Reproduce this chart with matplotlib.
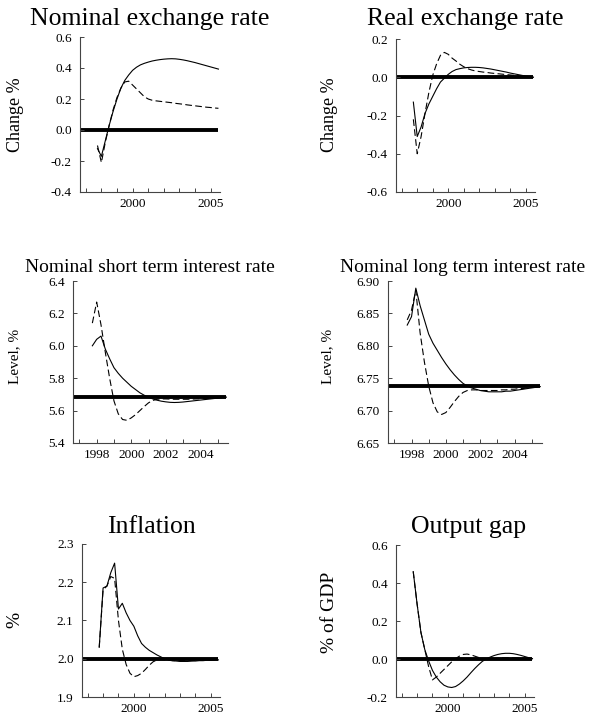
import matplotlib
matplotlib.use("Agg")
import matplotlib.pyplot as plt
import matplotlib.ticker as mticker
import pandas as pd

# ---- data (quarterly, 1997Q4 .. 2005Q3) ----
quarters = pd.period_range("1997Q4", "2005Q3", freq="Q")
t = [q.year + (q.quarter - 1) / 4 for q in quarters]

nom_solid = [-0.12, -0.17, -0.07, 0.03, 0.12, 0.20, 0.27, 0.32,
             0.355, 0.385, 0.405, 0.42, 0.43, 0.438, 0.445, 0.45,
             0.454, 0.457, 0.459, 0.46, 0.459, 0.456, 0.452, 0.447,
             0.441, 0.435, 0.428, 0.421, 0.414, 0.407, 0.40, 0.393]
nom_dash = [-0.10, -0.21, -0.08, 0.03, 0.13, 0.21, 0.27, 0.31,
            0.315, 0.29, 0.265, 0.24, 0.215, 0.20, 0.192, 0.188,
            0.185, 0.182, 0.179, 0.176, 0.172, 0.169, 0.166, 0.162,
            0.159, 0.156, 0.153, 0.15, 0.147, 0.145, 0.142, 0.14]

real_solid = [-0.13, -0.31, -0.26, -0.19, -0.14, -0.10, -0.06, -0.025,
              -0.005, 0.015, 0.03, 0.04, 0.045, 0.049, 0.051, 0.052,
              0.052, 0.051, 0.049, 0.046, 0.043, 0.039, 0.035, 0.031,
              0.027, 0.022, 0.018, 0.014, 0.01, 0.006, 0.003, 0.0]
real_dash = [-0.22, -0.40, -0.31, -0.19, -0.08, 0.01, 0.07, 0.115,
             0.13, 0.12, 0.10, 0.085, 0.068, 0.055, 0.045, 0.038,
             0.033, 0.03, 0.027, 0.025, 0.022, 0.02, 0.018, 0.016,
             0.014, 0.012, 0.01, 0.008, 0.006, 0.004, 0.002, 0.0]

short_solid = [6.00, 6.04, 6.06, 5.98, 5.92, 5.865, 5.83, 5.80,
               5.775, 5.75, 5.73, 5.71, 5.695, 5.682, 5.672, 5.664,
               5.658, 5.654, 5.651, 5.65, 5.651, 5.653, 5.656, 5.659,
               5.662, 5.665, 5.668, 5.671, 5.674, 5.677, 5.68, 5.683]
short_dash = [6.14, 6.27, 6.13, 5.96, 5.80, 5.66, 5.58, 5.545,
              5.54, 5.555, 5.575, 5.60, 5.625, 5.648, 5.663, 5.67,
              5.672, 5.672, 5.671, 5.67, 5.67, 5.67, 5.67, 5.671,
              5.672, 5.673, 5.674, 5.676, 5.677, 5.679, 5.681, 5.683]

long_solid = [6.832, 6.845, 6.889, 6.862, 6.84, 6.818, 6.804, 6.793,
              6.782, 6.772, 6.763, 6.755, 6.748, 6.742, 6.738, 6.735,
              6.733, 6.731, 6.73, 6.729, 6.729, 6.729, 6.729, 6.73,
              6.73, 6.731, 6.732, 6.733, 6.734, 6.735, 6.736, 6.737]
long_dash = [6.84, 6.855, 6.886, 6.82, 6.775, 6.738, 6.712, 6.698,
             6.694, 6.697, 6.705, 6.714, 6.722, 6.728, 6.731, 6.732,
             6.732, 6.731, 6.731, 6.731, 6.731, 6.731, 6.732, 6.732,
             6.733, 6.733, 6.734, 6.734, 6.735, 6.736, 6.736, 6.737]

infl_solid = [2.03, 2.185, 2.19, 2.225, 2.25, 2.13, 2.145, 2.12,
              2.10, 2.085, 2.06, 2.04, 2.03, 2.022, 2.016, 2.01,
              2.005, 2.0, 1.997, 1.995, 1.994, 1.993, 1.993, 1.993,
              1.994, 1.994, 1.995, 1.995, 1.996, 1.996, 1.997, 1.997]
infl_dash = [2.03, 2.18, 2.19, 2.215, 2.21, 2.10, 2.025, 1.985,
             1.962, 1.953, 1.956, 1.962, 1.972, 1.983, 1.992, 1.997,
             1.998, 1.997, 1.996, 1.995, 1.995, 1.995, 1.995, 1.995,
             1.995, 1.996, 1.996, 1.996, 1.996, 1.997, 1.997, 1.997]

gap_solid = [0.46, 0.29, 0.14, 0.05, -0.01, -0.06, -0.095, -0.12,
             -0.138, -0.147, -0.15, -0.145, -0.132, -0.115, -0.095, -0.072,
             -0.05, -0.03, -0.012, 0.0, 0.01, 0.018, 0.024, 0.028,
             0.03, 0.03, 0.028, 0.024, 0.019, 0.013, 0.007, 0.002]
gap_dash = [0.46, 0.29, 0.14, 0.05, -0.04, -0.11, -0.095, -0.075,
            -0.055, -0.035, -0.015, 0.002, 0.015, 0.024, 0.026, 0.022,
            0.015, 0.008, 0.002, 0.0, 0.0, 0.002, 0.004, 0.006,
            0.007, 0.007, 0.006, 0.005, 0.004, 0.003, 0.002, 0.001]

titles = ["Nominal exchange rate", "Real exchange rate",
          "Nominal short term interest rate", "Nominal long term interest rate",
          "Inflation", "Output gap"]
ylabels = ["Change %", "Change %", "Level, %", "Level, %", "%", "% of GDP"]
baselines = [0.0, 0.0, 5.685, 6.738, 2.0, 0.0]
yticks = [[-0.4, -0.2, 0.0, 0.2, 0.4, 0.6],
          [-0.6, -0.4, -0.2, 0.0, 0.2],
          [5.4, 5.6, 5.8, 6.0, 6.2, 6.4],
          [6.65, 6.70, 6.75, 6.80, 6.85, 6.90],
          [1.9, 2.0, 2.1, 2.2, 2.3],
          [-0.2, 0.0, 0.2, 0.4, 0.6]]
ytick_fmt = ["%.1f", "%.1f", "%.1f", "%.2f", "%.1f", "%.1f"]
xticks_major = [[2000, 2005], [2000, 2005], [1998, 2000, 2002, 2004],
                [1998, 2000, 2002, 2004], [2000, 2005], [2000, 2005]]
solids = [nom_solid, real_solid, short_solid, long_solid, infl_solid, gap_solid]
dashes = [nom_dash, real_dash, short_dash, long_dash, infl_dash, gap_dash]

# ---- layout (pixels in a 592x715 figure) ----
W, H = 592, 715
boxes = [(80, 37, 220, 192), (396, 39, 535, 192),
         (73, 281, 228, 443), (388, 281, 542, 443),
         (82, 544, 220, 697), (396, 545, 534, 697)]
title_pos = [(150, 25, 18.5), (465, 25, 18.5),
             (150, 272, 14), (463, 272, 14),
             (151, 533, 18.5), (469, 533, 18.5)]
ylabel_pos = [(15, 115, 13), (330, 115, 13),
              (15, 356, 11), (328, 356, 11),
              (15, 620, 14), (330, 612, 14)]

plt.rcParams["font.family"] = ["Liberation Serif", "DejaVu Serif"]
plt.rcParams["axes.unicode_minus"] = False

fig = plt.figure(figsize=(W / 100, H / 100), dpi=100)
xlim = (1996.63, 2005.6)

for i in range(6):
    l, tp, r, b = boxes[i]
    ax = fig.add_axes([l / W, 1 - b / H, (r - l) / W, (b - tp) / H])
    ax.plot([xlim[0], t[-1]], [baselines[i], baselines[i]], color="black",
            lw=2.8, solid_capstyle="butt", zorder=1)
    ax.plot(t, solids[i], color="black", lw=0.8, zorder=3)
    ax.plot(t, dashes[i], color="black", lw=0.8, dashes=(6, 3), zorder=3)
    ax.set_xlim(*xlim)
    ax.set_ylim(yticks[i][0], yticks[i][-1])
    ax.set_yticks(yticks[i])
    ax.yaxis.set_major_formatter(mticker.FormatStrFormatter(ytick_fmt[i]))
    ax.set_xticks(xticks_major[i])
    ax.set_xticklabels([str(v) for v in xticks_major[i]])
    ax.xaxis.set_minor_locator(mticker.MultipleLocator(1))
    for s in ("top", "right"):
        ax.spines[s].set_visible(False)
    for s in ("left", "bottom"):
        ax.spines[s].set_color("#444444")
        ax.spines[s].set_linewidth(0.8)
    ax.tick_params(axis="both", which="both", direction="in", length=3,
                   width=0.7, color="#444444", labelsize=9.5)
    ax.tick_params(axis="y", pad=6)
    ax.tick_params(axis="x", pad=4)
    tx, ty, ts = title_pos[i]
    fig.text(tx / W, 1 - ty / H, titles[i], ha="center", va="baseline",
             fontsize=ts)
    yx, yy, ys = ylabel_pos[i]
    fig.text(yx / W, 1 - yy / H, ylabels[i], ha="center", va="center",
             rotation=90, fontsize=ys)

fig.savefig("out.png", dpi=100)
